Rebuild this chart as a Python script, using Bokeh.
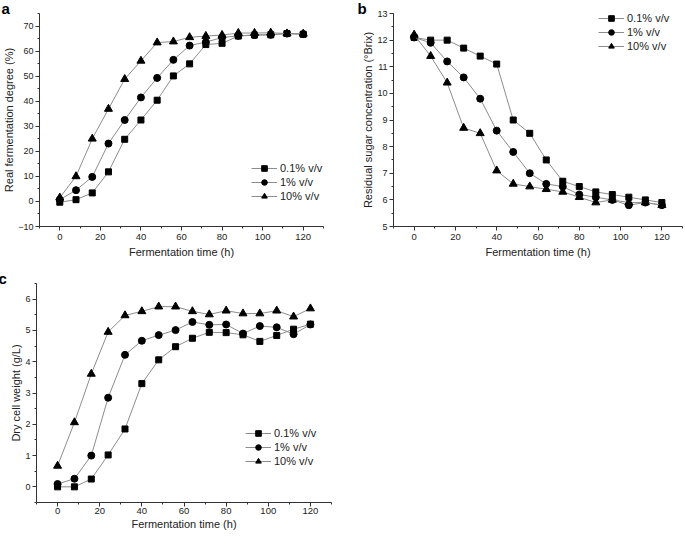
from bokeh.plotting import figure
from bokeh.layouts import column, row
from bokeh.models import Legend, LegendItem, Range1d, SingleIntervalTicker
from bokeh.embed import file_html
from bokeh.resources import INLINE

# ---------------- data ----------------
time_h = [0, 8, 16, 24, 32, 40, 48, 56, 64, 72, 80, 88, 96, 104, 112, 120]
series_labels = ["0.1% v/v", "1% v/v", "10% v/v"]

# a: real fermentation degree (%)
rfd_01 = [-0.3, 0.7, 3.4, 11.8, 24.8, 32.5, 40.4, 50.1, 54.9, 62.6, 63.1, 66.0, 66.4, 66.5, 67.0, 66.7]
rfd_1 = [0.7, 4.5, 9.8, 23.1, 32.5, 41.5, 49.3, 56.5, 62.2, 63.6, 65.4, 66.1, 66.4, 66.5, 67.0, 66.8]
rfd_10 = [1.5, 10.0, 25.0, 36.9, 48.8, 56.1, 63.4, 63.8, 65.5, 66.0, 66.4, 67.2, 67.2, 67.3, 67.0, 66.9]

# b: residual sugar concentration (°Brix)
sug_01 = [12.1, 12.0, 12.0, 11.7, 11.4, 11.1, 9.0, 8.5, 7.5, 6.7, 6.5, 6.3, 6.2, 6.1, 6.0, 5.9]
sug_1 = [12.1, 11.9, 11.2, 10.6, 9.8, 8.6, 7.8, 7.0, 6.6, 6.5, 6.2, 6.1, 6.0, 5.8, 5.9, 5.8]
sug_10 = [12.2, 11.4, 10.4, 8.7, 8.5, 7.1, 6.6, 6.5, 6.4, 6.3, 6.1, 5.9, 6.0, 5.9, 5.9, 5.8]

# c: dry cell weight (g/L)
dcw_01 = [0.0, 0.0, 0.25, 1.02, 1.85, 3.30, 4.06, 4.48, 4.75, 4.94, 4.93, 4.86, 4.65, 4.84, 5.04, 5.20]
dcw_1 = [0.09, 0.26, 1.00, 2.85, 4.22, 4.67, 4.85, 5.01, 5.27, 5.18, 5.19, 4.90, 5.14, 5.10, 4.88, 5.19]
dcw_10 = [0.67, 2.06, 3.61, 4.95, 5.48, 5.61, 5.76, 5.76, 5.61, 5.51, 5.63, 5.54, 5.54, 5.63, 5.44, 5.70]

FONT = "Liberation Sans"
TXT = "#222222"
LINE = "#8c8c8c"
MARKERS = [("square", 6), ("circle", 7), ("triangle", 8)]


def make_panel(letter, ylabel, ys, yr, yint, width, height, borders, legend_xy, title_off,
               x_stand=(3, 3)):
    bl, br, bt, bb = borders
    p = figure(width=width, height=height, output_backend="svg", toolbar_location=None,
               x_range=Range1d(-10, 130), y_range=Range1d(*yr),
               min_border_left=bl, min_border_right=br, min_border_top=bt, min_border_bottom=bb)
    p.outline_line_color = None
    p.xgrid.visible = False
    p.ygrid.visible = False
    p.background_fill_color = "white"
    p.border_fill_color = "white"

    p.title.text = letter
    p.title.text_font = FONT
    p.title.text_font_size = "15px"
    p.title.text_font_style = "bold"
    p.title.text_color = "black"
    p.title.align = "left"
    p.title.offset = title_off
    p.title.standoff = -6

    p.xaxis.ticker = SingleIntervalTicker(interval=20, num_minor_ticks=2)
    p.yaxis.ticker = SingleIntervalTicker(interval=yint, num_minor_ticks=2)
    for ax in (p.xaxis[0], p.yaxis[0]):
        ax.axis_line_color = "#333333"
        ax.major_tick_line_color = "#333333"
        ax.minor_tick_line_color = "#333333"
        ax.major_tick_out = 4
        ax.major_tick_in = 0
        ax.minor_tick_out = 2
        ax.minor_tick_in = 0
        ax.major_label_text_font = FONT
        ax.major_label_text_font_size = "9px"
        ax.major_label_text_color = TXT
        ax.axis_label_text_font = FONT
        ax.axis_label_text_font_size = "11px"
        ax.axis_label_text_font_style = "normal"
        ax.axis_label_text_color = TXT
        ax.major_label_standoff = 2
        ax.axis_label_standoff = 0
    p.xaxis.major_label_standoff = x_stand[0]
    p.xaxis.axis_label_standoff = x_stand[1]
    p.xaxis.major_label_text_font_size = "9.5px"
    p.xaxis.axis_label = "Fermentation time (h)"
    p.yaxis.axis_label = ylabel

    items = []
    for lab, yv, (mk, sz) in zip(series_labels, ys, MARKERS):
        lr = p.line(time_h, yv, line_color=LINE, line_width=1)
        sr = p.scatter(time_h, yv, marker=mk, size=sz, fill_color="black", line_color="black")
        items.append(LegendItem(label=lab, renderers=[lr, sr]))

    leg = Legend(items=items, location=legend_xy, border_line_color=None,
                 background_fill_alpha=0, padding=0, spacing=0, margin=0,
                 glyph_width=26, glyph_height=14, label_height=14, label_standoff=3,
                 label_text_font=FONT, label_text_font_size="11px", label_text_color=TXT)
    p.add_layout(leg)
    return p


pa = make_panel("a", "Real fermentation degree (%)", [rfd_01, rfd_1, rfd_10], (-10, 75), 10,
                340, 266, (36, 17, 12, 40), (212, 23), -38)
pb = make_panel("b", "Residual sugar concentration (°Brix)", [sug_01, sug_1, sug_10], (5, 13), 1,
                344, 266, (53, 2, 10, 40), (205, 173), -36)
pc = make_panel("c", "Dry cell weight (g/L)", [dcw_01, dcw_1, dcw_10], (-0.5, 6.5), 1,
                340, 272, (36, 9, 17, 36), (209, 34), -38, x_stand=(1, 1))

layout = column(row(pa, pb), pc)
open("out.html", "w").write(file_html(layout, INLINE))
